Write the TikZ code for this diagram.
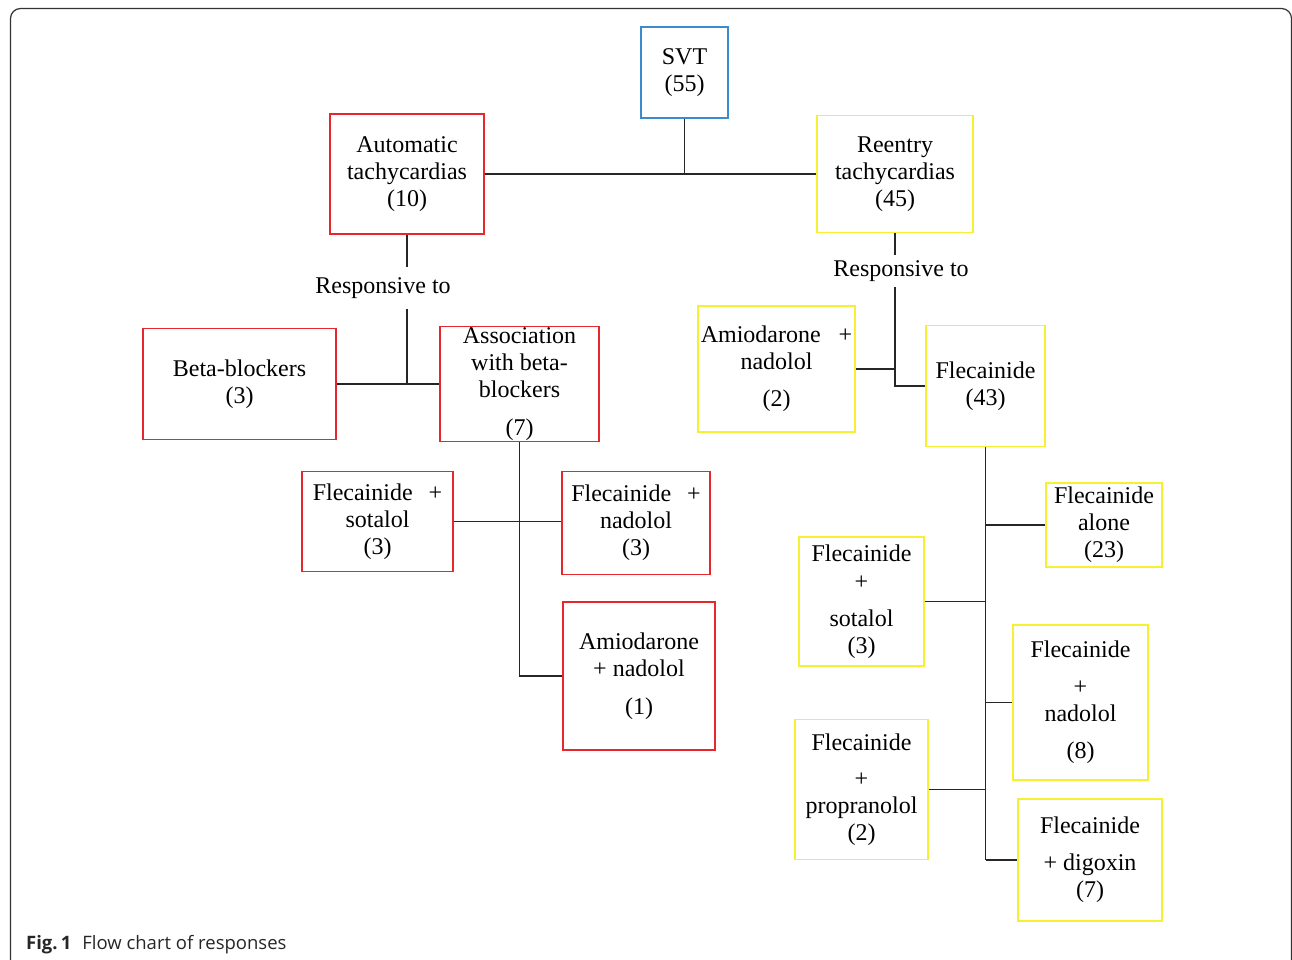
\documentclass[tikz,border=0pt]{standalone}
\usepackage{fontspec}
\setmainfont{Liberation Serif}
\newfontfamily\capfont{Open Sans}
\definecolor{myred}{RGB}{230,40,45}
\definecolor{myyellow}{RGB}{245,240,50}
\definecolor{myblue}{RGB}{60,140,205}
\begin{document}
\begin{tikzpicture}[x=1pt,y=-1pt,
  box/.style={draw, line width=1.6pt, rectangle, align=center, inner sep=1pt,
    font=\fontsize{24}{27}\selectfont, text=black},
  rbox/.style={box, draw=myred},
  ybox/.style={box, draw=myyellow},
  bbox/.style={box, draw=myblue},
  conn/.style={line width=1.7pt, draw=black!85},
  resp/.style={font=\fontsize{24}{27}\selectfont, text=black, inner xsep=0pt}
]
\clip (0,0) rectangle (1292,959);
\draw[line width=1.2pt, black!80, rounded corners=10pt] (10.5,8.5) rectangle (1291.5,1000);

% boxes
\node[bbox, minimum width=87, minimum height=91] (svt) at (684.5,72.5) {SVT\\(55)};
\node[rbox, minimum width=154, minimum height=120] (auto) at (407,174) {Automatic\\tachycardias\\(10)};
\node[ybox, minimum width=156, minimum height=117] (reen) at (895,174) {Reentry\\tachycardias\\(45)};
\node[rbox, minimum width=193, minimum height=111] (beta) at (239.5,384) {Beta-blockers\\(3)};
\node[rbox, minimum width=159, minimum height=115] (assoc) at (519.5,384) {Association\\with beta-\\blockers\\[11pt](7)};
\node[rbox, minimum width=151, minimum height=100] (fsr) at (377.5,521.5) {Flecainide\hspace{16pt}+\\sotalol\\(3)};
\node[rbox, minimum width=148, minimum height=103] (fnr) at (636,523) {Flecainide\hspace{16pt}+\\nadolol\\(3)};
\node[rbox, minimum width=152, minimum height=148] (amr) at (639,676) {Amiodarone\\+ nadolol\\[11pt](1)};
\node[ybox, minimum width=157, minimum height=126] (amy) at (776.5,369) {Amiodarone\hspace{18pt}+\\nadolol\\[10pt](2)};
\node[ybox, minimum width=119, minimum height=121] (fl43) at (985.5,386) {Flecainide\\(43)};
\node[ybox, minimum width=116, minimum height=84] (fal) at (1104,525) {Flecainide\\alone\\(23)};
\node[ybox, minimum width=125, minimum height=129] (fsy) at (861.5,601.5) {Flecainide\\[1pt]+\\[10pt]sotalol\\(3)};
\node[ybox, minimum width=135, minimum height=155] (fny) at (1080.5,702.5) {Flecainide\\[10pt]+\\nadolol\\[10pt](8)};
\node[ybox, minimum width=133, minimum height=140] (fpy) at (861.5,789.5) {Flecainide\\[9pt]+\\propranolol\\(2)};
\node[ybox, minimum width=144, minimum height=122] (fdy) at (1090,860) {Flecainide\\[10pt]+ digoxin\\(7)};

% labels
\node[resp, inner ysep=10pt] (resp1) at (383,288) {Responsive to};
\node[resp, inner ysep=5.5pt] (resp2) at (901,271) {Responsive to};

% connectors
\draw[conn] (svt.south) -- (svt.south |- auto.east);
\draw[conn] (auto.east) -- (auto.east -| reen.west);
\draw[conn] (auto.south) -- (auto.south |- resp1.north);
\draw[conn] (auto.south |- resp1.south) -- (auto.south |- beta.east);
\draw[conn] (beta.east) -- (assoc.west);
\draw[conn] (assoc.south) |- (amr.west);
\draw[conn] (fsr.east) -- (fsr.east -| fnr.west);
\draw[conn] (reen.south) -- (reen.south |- resp2.north);
\draw[conn] (reen.south |- resp2.south) |- (fl43.west);
\draw[conn] (amy.east) -- (amy.east -| reen.south);
\draw[conn] (fl43.south) -- (fl43.south |- fdy.west);
\draw[conn] (fal.west) -- (fal.west -| fl43.south);
\draw[conn] (fsy.east) -- (fsy.east -| fl43.south);
\draw[conn] (fny.west) -- (fny.west -| fl43.south);
\draw[conn] (fpy.east) -- (fpy.east -| fl43.south);
\draw[conn] (fdy.west) -- (fdy.west -| fl43.south);

% caption
\node[anchor=base west, inner sep=0pt, font=\capfont\fontsize{18.5}{22}\selectfont, text=black!85] (cap) at (26,949) {\textbf{Fig.\,1}\hspace{11pt}Flow chart of responses};
\end{tikzpicture}
\end{document}
